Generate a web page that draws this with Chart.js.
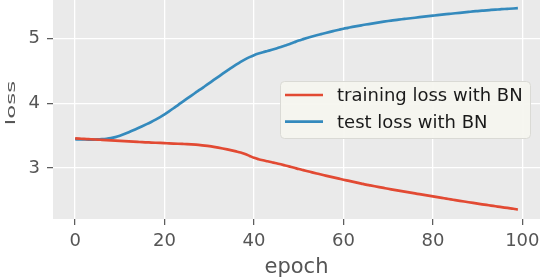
<!DOCTYPE html>
<html><head><meta charset="utf-8">
<script src="https://cdn.jsdelivr.net/npm/chart.js@4"></script>
<style>html,body{margin:0;padding:0;background:#fff;overflow:hidden}canvas{display:block}</style>
</head><body><canvas id="c" width="540" height="280"></canvas>
<script>
const epochs = [0,1,2,3,4,5,6,7,8,9,10,11,12,13,14,15,16,17,18,19,20,21,22,23,24,25,26,27,28,29,30,31,32,33,34,35,36,37,38,39,40,41,42,43,44,45,46,47,48,49,50,51,52,53,54,55,56,57,58,59,60,61,62,63,64,65,66,67,68,69,70,71,72,73,74,75,76,77,78,79,80,81,82,83,84,85,86,87,88,89,90,91,92,93,94,95,96,97,98,99];
const trainLoss = [
3.46,3.455,3.45,3.447,3.443,3.44,3.436,3.432,3.428,3.424,
3.42,3.416,3.412,3.408,3.404,3.40,3.397,3.394,3.391,3.388,
3.385,3.382,3.379,3.376,3.373,3.37,3.366,3.361,3.355,3.347,
3.338,3.327,3.315,3.302,3.288,3.273,3.257,3.24,3.217,3.188,
3.158,3.137,3.12,3.105,3.09,3.075,3.058,3.04,3.022,3.004,
2.985,2.968,2.951,2.934,2.917,2.90,2.884,2.868,2.852,2.836,
2.82,2.805,2.79,2.775,2.76,2.745,2.732,2.719,2.706,2.693,
2.68,2.668,2.656,2.644,2.632,2.62,2.608,2.597,2.585,2.573,
2.562,2.551,2.54,2.528,2.517,2.505,2.494,2.483,2.472,2.461,
2.45,2.44,2.43,2.42,2.41,2.40,2.39,2.381,2.372,2.358];
const testLoss = [
3.445,3.443,3.442,3.441,3.441,3.442,3.446,3.452,3.462,3.478,
3.50,3.526,3.554,3.583,3.614,3.646,3.679,3.713,3.749,3.788,
3.83,3.876,3.924,3.974,4.024,4.073,4.121,4.168,4.215,4.264,
4.313,4.362,4.41,4.458,4.505,4.552,4.597,4.64,4.679,4.714,
4.744,4.769,4.79,4.809,4.828,4.848,4.87,4.893,4.917,4.944,
4.97,4.992,5.013,5.033,5.052,5.07,5.088,5.105,5.121,5.137,
5.153,5.167,5.181,5.194,5.206,5.218,5.229,5.24,5.251,5.262,
5.272,5.281,5.29,5.299,5.307,5.315,5.323,5.331,5.339,5.347,
5.355,5.363,5.37,5.378,5.385,5.392,5.399,5.406,5.413,5.42,
5.426,5.432,5.438,5.443,5.448,5.453,5.458,5.462,5.466,5.47];
const xTicks = [0,20,40,60,80,100];
const yTicks = [3,4,5];
const seriesNames = ['training loss with BN','test loss with BN'];
const seriesColors = ['#E24A33','#348ABD'];
const xTitle = 'epoch';
const yTitle = 'loss';

const FONT = 'DejaVu Sans';
const plotBg = {
  id:'plotBg',
  beforeDraw(chart){
    const {ctx, chartArea:a} = chart;
    ctx.save(); ctx.fillStyle = '#EAEAEA';
    ctx.fillRect(a.left, a.top, a.right-a.left, a.bottom-a.top);
    ctx.restore();
  },
  afterDraw(chart){
    const ctx = chart.ctx;
    ctx.save();
    ctx.translate(12.5, 103);
    ctx.rotate(-Math.PI/2);
    ctx.scale(1, 0.5);
    ctx.fillStyle = '#555555';
    ctx.font = '23px "' + FONT + '"';
    ctx.textAlign = 'center'; ctx.textBaseline = 'middle';
    ctx.fillText(yTitle, 0, 0);
    ctx.restore();
  }
};
const boxLegend = {
  id:'boxLegend',
  afterDatasetsDraw(chart){
    const ctx = chart.ctx;
    const x0 = 280, y0 = 81, w = 250, h = 57, r = 4;
    ctx.save();
    ctx.beginPath();
    ctx.roundRect(x0+0.5, y0+0.5, w, h, r);
    ctx.fillStyle = 'rgba(246,245,239,0.95)';
    ctx.fill();
    ctx.strokeStyle = '#DADAD5'; ctx.lineWidth = 1; ctx.stroke();
    chart.data.datasets.forEach((ds, i) => {
      const cy = 95 + i*26.7;
      ctx.beginPath(); ctx.strokeStyle = ds.borderColor; ctx.lineWidth = 2.7;
      ctx.moveTo(285, cy); ctx.lineTo(323, cy); ctx.stroke();
      ctx.fillStyle = '#1a1a1a'; ctx.font = '18px "' + FONT + '"';
      ctx.textBaseline = 'alphabetic'; ctx.textAlign = 'left';
      ctx.fillText(ds.label, 337, cy + 6.2);
    });
    ctx.restore();
  }
};

new Chart(document.getElementById('c'), {
  type:'line',
  data:{
    datasets:[
      {label:seriesNames[0], data:epochs.map((e,i)=>({x:e,y:trainLoss[i]})), borderColor:seriesColors[0], borderWidth:2.7, pointRadius:0, cubicInterpolationMode:'monotone', fill:false},
      {label:seriesNames[1], data:epochs.map((e,i)=>({x:e,y:testLoss[i]})), borderColor:seriesColors[1], borderWidth:2.7, pointRadius:0, cubicInterpolationMode:'monotone', fill:false}
    ]
  },
  options:{
    responsive:false, devicePixelRatio:1, animation:false,
    layout:{padding:0},
    plugins:{legend:{display:false}, tooltip:{enabled:false}},
    scales:{
      x:{type:'linear', min:-4.95, max:103.95,
        afterBuildTicks(s){ s.ticks = xTicks.map(v=>({value:v})); },
        afterFit(s){ s.height = 61; s.paddingLeft = 0; s.paddingRight = 0; },
        grid:{color:'#ffffff', lineWidth:1.3, tickColor:'#555555', tickLength:6, tickWidth:1.2, drawTicks:true},
        border:{display:false},
        ticks:{color:'#555555', font:{family:FONT, size:18}, padding:6, maxRotation:0, autoSkip:false},
        title:{display:true, text:xTitle, color:'#555555', font:{family:FONT, size:21}, padding:{top:0,bottom:0}}
      },
      y:{type:'linear', min:2.213, max:5.597,
        afterBuildTicks(s){ s.ticks = yTicks.map(v=>({value:v})); },
        afterFit(s){ s.width = 53; s.paddingTop = 0; s.paddingBottom = 0; },
        grid:{color:'#ffffff', lineWidth:1.3, tickColor:'#555555', tickLength:6, tickWidth:1.2},
        border:{display:false},
        ticks:{color:'#555555', font:{family:FONT, size:18}, padding:7},
        title:{display:false}
      }
    }
  },
  plugins:[plotBg, boxLegend]
});
</script>
</body></html>
